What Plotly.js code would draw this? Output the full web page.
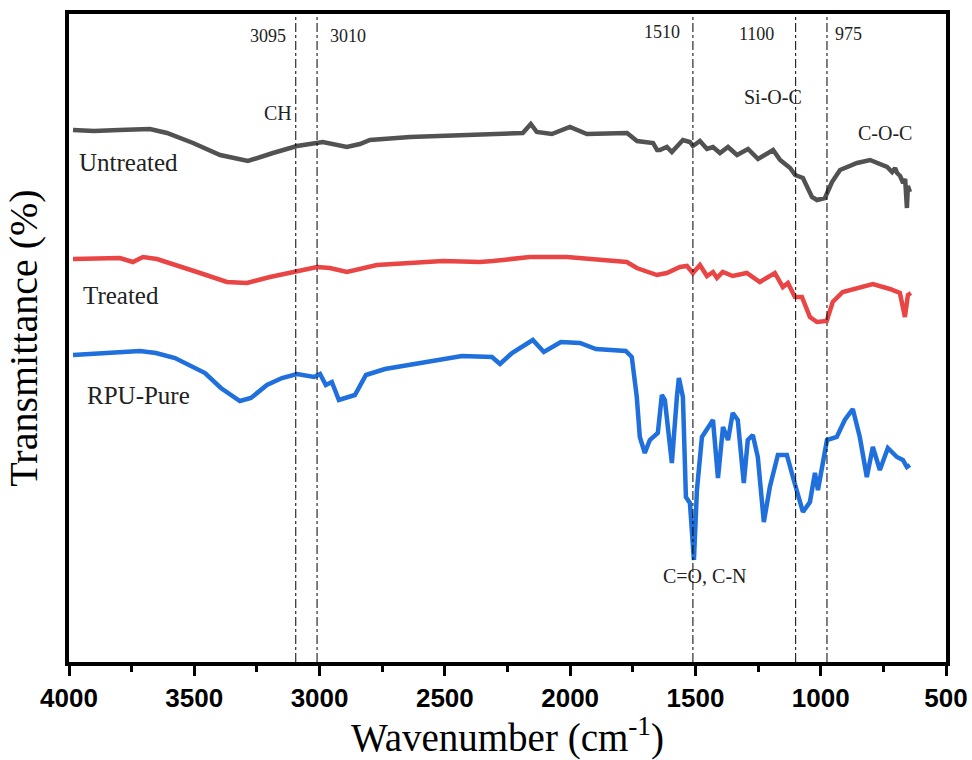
<!DOCTYPE html>
<html>
<head>
<meta charset="utf-8">
<script src="https://cdn.plot.ly/plotly-3.0.1.min.js"></script>
<style>html,body{margin:0;padding:0;background:#fff;}#chart{width:972px;height:760px;}</style>
</head>
<body>
<div id="chart"></div>
<script>
// Wavenumber (cm-1) and transmittance (arbitrary offset units)
const wnUntreated = [3984,3900,3800,3677,3609,3505,3397,3286,3186,3090,2987,2891,2839,2799,2639,2440,2280,2189,2157,2133,2073,2001,1933,1773,1733,1669,1653,1642,1614,1594,1550,1522,1510,1482,1454,1430,1402,1370,1334,1290,1250,1190,1162,1122,1102,1071,1035,1015,983,955,923,855,803,735,715,703,695,683,671,663,656,652,644];
const tUntreated  = [532,531,532,533,529,519,507,501,509,516,520,515,518,522,525,527,528,529,538,530,528,535,528,529,521,519,512,512,515,510,522,520,516,521,513,515,509,515,507,513,503,512,502,494,487,484,465,462,464,480,492,499,502,495,490,494,489,486,479,483,454,476,470];

const wnTreated = [3984,3797,3745,3705,3649,3569,3477,3370,3290,3198,3106,3010,2959,2891,2771,2639,2508,2360,2308,2161,2013,1774,1734,1654,1614,1562,1534,1510,1482,1454,1430,1414,1391,1351,1295,1243,1183,1151,1131,1103,1075,1043,1015,976,952,912,844,792,724,684,664,652,640];
const tTreated  = [403,404,400,405,403,397,389,380,379,385,390,395,394,390,397,399,401,400,401,405,405,400,394,387,389,395,396,389,397,386,390,384,390,386,389,380,389,375,379,365,365,345,340,341,360,370,375,378,373,369,345,367,369];

const wnRPU = [3984,3808,3717,3653,3577,3457,3394,3318,3274,3210,3150,3090,3022,2998,2975,2951,2923,2859,2815,2739,2584,2432,2312,2280,2232,2149,2105,2037,1961,1897,1778,1754,1734,1722,1702,1682,1650,1634,1622,1594,1574,1566,1550,1538,1522,1506,1494,1474,1430,1410,1390,1370,1351,1331,1307,1291,1271,1251,1227,1203,1171,1135,1111,1071,1043,1023,1011,975,936,904,872,844,816,792,764,732,696,672,656,644];
const tRPU  = [307,309,311,309,304,289,274,261,264,277,284,288,285,288,277,280,262,267,287,293,300,306,305,298,309,322,310,320,319,313,311,305,265,225,209,222,229,267,262,199,265,284,265,165,159,102,172,225,242,184,235,222,249,242,179,222,227,205,140,175,207,207,185,150,160,189,172,222,225,242,253,225,185,215,192,214,205,202,195,197];

// Marker lines (cm-1) and their labels
const markerWn = [3095, 3010, 1510, 1100, 975];
const markerLabels = ["3095", "3010", "1510", "1100", "975"];
const markerLabelWn = [3206, 2887, 1634, 1255, 888];
const markerLabelY = [626, 626, 630, 628, 628];

// Band / series labels
const bandText = ["CH", "Si-O-C", "C-O-C", "C=O, C-N"];
const bandWn = [3166, 1189, 744, 1462];
const bandY = [549, 565, 529, 86];
const seriesNames = ["Untreated", "Treated", "RPU-Pure"];
const seriesLabelWn = [3763, 3793, 3721];
const seriesLabelY = [500, 367, 267];
const seriesColors = ["#525252", "#EA4545", "#1F6FDD"];

const serif = "Liberation Serif, Times New Roman, serif";

const traces = [
  {x: wnUntreated, y: tUntreated, name: seriesNames[0]},
  {x: wnTreated, y: tTreated, name: seriesNames[1]},
  {x: wnRPU, y: tRPU, name: seriesNames[2]}
].map((t, i) => Object.assign(t, {
  type: "scatter", mode: "lines",
  line: {color: seriesColors[i], width: 4.5},
  showlegend: false, hoverinfo: "skip"
}));

const shapes = markerWn.map(w => ({
  type: "line", xref: "x", yref: "paper", x0: w, x1: w, y0: 0, y1: 1,
  line: {color: "#000", width: 1, dash: "dashdot"}
}));

const annotations = [];
markerLabels.forEach((t, i) => annotations.push({
  x: markerLabelWn[i], y: markerLabelY[i], xref: "x", yref: "y", text: t,
  showarrow: false, font: {family: serif, size: 18, color: "#222"}
}));
bandText.forEach((t, i) => annotations.push({
  x: bandWn[i], y: bandY[i], xref: "x", yref: "y", text: t,
  showarrow: false, font: {family: serif, size: 20, color: "#222"}
}));
seriesNames.forEach((t, i) => annotations.push({
  x: seriesLabelWn[i], y: seriesLabelY[i], xref: "x", yref: "y", text: t,
  showarrow: false, font: {family: serif, size: 25, color: "#222"}
}));

const layout = {
  width: 972, height: 760,
  margin: {l: 69, r: 26, t: 14, b: 98},
  paper_bgcolor: "#fff", plot_bgcolor: "#fff",
  showlegend: false,
  xaxis: {
    range: [4000, 500], dtick: 500, tick0: 0,
    ticks: "outside", ticklen: 10, tickwidth: 3, tickcolor: "#000",
    minor: {dtick: 250, ticks: "outside", ticklen: 6, tickwidth: 3, tickcolor: "#000", showgrid: false},
    showline: true, linewidth: 4, linecolor: "#000", mirror: true,
    showgrid: false, zeroline: false,
    tickfont: {family: "Liberation Sans, Arial, sans-serif", size: 26, color: "#000", weight: "bold"},
    title: {text: "Wavenumber (cm<sup>-1</sup>)", font: {family: serif, size: 39, color: "#000"}, standoff: 16}
  },
  yaxis: {
    range: [0, 648],
    showticklabels: false, ticks: "",
    showline: true, linewidth: 4, linecolor: "#000", mirror: true,
    showgrid: false, zeroline: false,
    title: {text: "Transmittance (%)", font: {family: serif, size: 40, color: "#000"}, standoff: 16}
  },
  shapes: shapes,
  annotations: annotations
};

Plotly.newPlot("chart", traces, layout, {displayModeBar: false, staticPlot: true});
</script>
</body>
</html>
